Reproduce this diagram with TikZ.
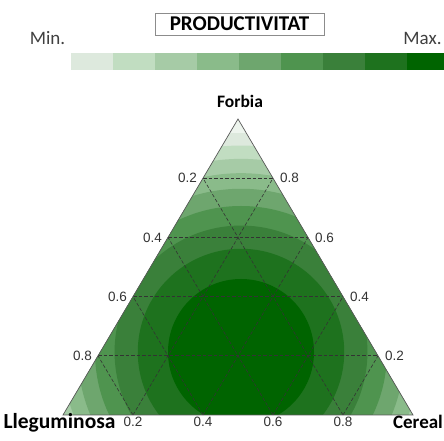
\documentclass[tikz,border=0pt]{standalone}
\usepackage{fontspec}
\setmainfont{Carlito}
\newfontfamily\tickfont{Liberation Sans}
\usetikzlibrary{calc,shadows}

\definecolor{prod0}{HTML}{EEF5EE}
\definecolor{prod1}{HTML}{DDE9DD}
\definecolor{prod2}{HTML}{C1DDC1}
\definecolor{prod3}{HTML}{A6CBA6}
\definecolor{prod4}{HTML}{8ABB8A}
\definecolor{prod5}{HTML}{6EA66E}
\definecolor{prod6}{HTML}{4F944F}
\definecolor{prod7}{HTML}{3A803A}
\definecolor{prod8}{HTML}{1E721E}
\definecolor{prod9}{HTML}{006400}

\tikzset{
  grid line/.style={draw=black!80, line width=0.6pt, dash pattern=on 3.5pt off 2pt},
  tick label/.style={font=\tickfont\fontsize{13.5}{15}\selectfont, text=black!80, inner sep=1pt},
  corner label/.style={font=\bfseries\fontsize{20}{24}\selectfont, anchor=base},
  end label/.style={font=\fontsize{19}{22}\selectfont, text=black!75, anchor=base},
}

\begin{document}
\begin{tikzpicture}[x=1pt,y=1pt]
  \useasboundingbox (0,0) rectangle (444,441);
  % colour scale
  \node[draw=black!45, fill=white, drop shadow={shadow xshift=1pt,shadow yshift=-1pt,fill=black!30},
        minimum width=169pt, minimum height=22pt, inner sep=0pt,
        font=\bfseries\fontsize{21}{24}\selectfont] (title) at (239.5,417) {PRODUCTIVITAT};
  \node[end label] (min) at (47.5,396) {Min.};
  \node[end label] (max) at (422.5,396) {Max.};
  \foreach \i in {1,...,8}
    \fill[prod\i] ({70.7+42*(\i-1)},371) rectangle ++(42,17);
  \fill[prod9] (406.7,371) rectangle (444,388);
  % ternary plot
  \coordinate (F) at (238,322);
  \coordinate (L) at (63,26);
  \coordinate (C) at (413,26);
  \coordinate (mid) at (241,89);
  \begin{scope}
    \clip (F) -- (L) -- (C) -- cycle;
    \fill[prod0] (F) -- (L) -- (C) -- cycle;
    \foreach \k in {9,...,1} {
      \pgfmathtruncatemacro\c{10-\k}
      \fill[prod\c] (mid) circle ({73*sqrt(\k)});
    }
  \end{scope}
  \foreach \i in {1,...,4} {
    \coordinate (lt\i) at ($(L)!\i/5!(F)$);
    \coordinate (rt\i) at ($(C)!\i/5!(F)$);
    \coordinate (bt\i) at ($(L)!\i/5!(C)$);
  }
  \foreach \i [evaluate=\i as \j using int(5-\i)] in {1,...,4} {
    \draw[grid line] (lt\i) -- (rt\i);
    \draw[grid line] (bt\i) -- (rt\j);
    \draw[grid line] (bt\i) -- (lt\i);
  }
  \draw[black!65, line width=0.7pt] (F) -- (L) -- (C) -- cycle;
  % axis values
  \foreach \i/\v in {1/0.8,2/0.6,3/0.4,4/0.2}
    \node[tick label, anchor=east, xshift=-5pt] (lv\i) at (lt\i) {\v};
  \foreach \i/\v in {1/0.2,2/0.4,3/0.6,4/0.8} {
    \node[tick label, anchor=west, xshift=6pt] (rv\i) at (rt\i) {\v};
    \node[tick label, anchor=north, yshift=-1pt] (bv\i) at (bt\i) {\v};
  }
  \node[corner label, font=\bfseries\fontsize{17.5}{20}\selectfont] (forbia) at (240,333) {Forbia};
  \node[corner label, font=\bfseries\fontsize{21.5}{24}\selectfont] (llegum) at (59.5,12) {Lleguminosa};
  \node[corner label, font=\bfseries\fontsize{19}{22}\selectfont] (cereal) at (418,12) {Cereal};
\end{tikzpicture}
\end{document}
